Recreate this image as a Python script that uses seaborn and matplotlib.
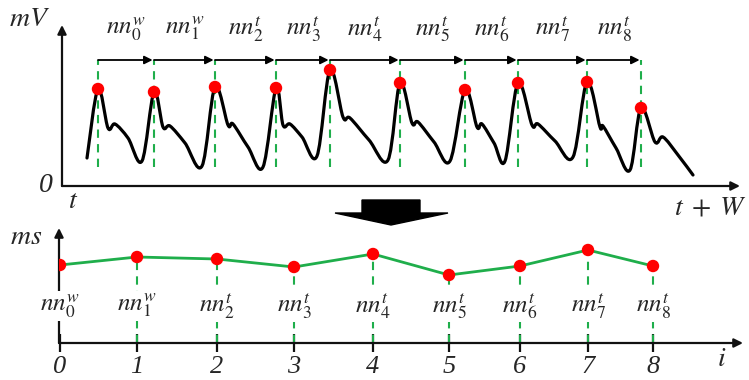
import numpy as np
import matplotlib
matplotlib.use("Agg")
import matplotlib.pyplot as plt
from matplotlib.path import Path
from matplotlib.patches import PathPatch, Polygon
from matplotlib.transforms import Affine2D
import seaborn as sns

# ---------------- data ----------------
# pulse peaks of the signal window (time, amplitude)
peak_t = [0.36, 0.92, 1.53, 2.14, 2.68, 3.38, 4.03, 4.56, 5.25, 5.79]
peak_mv = [0.97, 0.94, 0.99, 0.98, 1.16, 1.03, 0.96, 1.03, 1.04, 0.78]

# waveform shape after every peak: notch, small bump, falling limb, trough
start_pt = (0.25, 0.28)
notch_t = [0.46, 1.01, 1.66, 2.21, 2.81, 3.50, 4.15, 4.70, 5.38, 5.93]
notch_mv = [0.58, 0.59, 0.61, 0.61, 0.69, 0.63, 0.59, 0.61, 0.59, 0.44]
bump_t = [0.53, 1.08, 1.71, 2.28, 2.88, 3.56, 4.20, 4.76, 5.41, 6.01]
bump_mv = [0.62, 0.60, 0.62, 0.62, 0.68, 0.64, 0.62, 0.62, 0.60, 0.49]
fall_t = [0.66, 1.23, 1.86, 2.40, 3.07, 3.72, 4.32, 4.93, 5.54, 6.16]
fall_mv = [0.48, 0.43, 0.39, 0.49, 0.46, 0.44, 0.43, 0.45, 0.38, 0.31]
trough_t = [0.80, 1.40, 2.01, 2.55, 3.26, 3.88, 4.43, 5.11, 5.68, 6.31]
trough_mv = [0.25, 0.20, 0.19, 0.30, 0.26, 0.25, 0.25, 0.29, 0.16, 0.11]

interval_labels = [r"$nn_{0}^{w}$", r"$nn_{1}^{w}$", r"$nn_{2}^{t}$", r"$nn_{3}^{t}$",
                   r"$nn_{4}^{t}$", r"$nn_{5}^{t}$", r"$nn_{6}^{t}$", r"$nn_{7}^{t}$",
                   r"$nn_{8}^{t}$"]

# resulting interval series
sample_idx = ["0", "1", "2", "3", "4", "5", "6", "7", "8"]
sample_x = [0.01, 0.78, 1.58, 2.35, 3.14, 3.90, 4.61, 5.29, 5.94]
nn_vals = [0.78, 0.86, 0.84, 0.76, 0.89, 0.68, 0.77, 0.93, 0.77]

# ---------------- style ----------------
sns.set_theme(style="white")
plt.rcParams["font.family"] = ["Liberation Serif", "DejaVu Serif"]
plt.rcParams["mathtext.fontset"] = "stix"

GREEN = "#1fae4b"
RED = "#ff0000"
W, H = 749, 380

fig = plt.figure(figsize=(W / 100, H / 100), dpi=100)
fig.patch.set_facecolor("white")
pix = Affine2D().scale(1 / W, -1 / H).translate(0, 1) + fig.transFigure


def axis_arrows(ax):
    for s in ax.spines.values():
        s.set_visible(False)
    kw = dict(xycoords="axes fraction", textcoords="axes fraction",
              arrowprops=dict(arrowstyle="-|>", color="#111111", lw=1.6,
                              mutation_scale=13, shrinkA=0, shrinkB=0))
    ax.annotate("", xy=(0, 1), xytext=(0, 0), **kw)
    ax.annotate("", xy=(1, 0), xytext=(0, 0), **kw)


# ---------------- top: signal window ----------------
ax1 = fig.add_axes([62 / W, (H - 186) / H, 678 / W, 161 / H])
ax1.set_xlim(0, 6.78)
ax1.set_ylim(0, 1.61)
ax1.set_xticks([])
ax1.set_yticks([])
ax1.patch.set_alpha(0)
axis_arrows(ax1)

# waveform vertices in time order
pts = [start_pt]
for i in range(len(peak_t)):
    pts += [(peak_t[i], peak_mv[i]), (notch_t[i], notch_mv[i]), (bump_t[i], bump_mv[i]),
            (fall_t[i], fall_mv[i]), (trough_t[i], trough_mv[i])]
pts = np.array(pts)
ext = np.vstack([pts[0], pts, pts[-1]])
verts, codes = [pts[0]], [Path.MOVETO]
for i in range(len(pts) - 1):
    p0, p1, p2, p3 = ext[i], ext[i + 1], ext[i + 2], ext[i + 3]
    verts += [p1 + (p2 - p0) / 6, p2 - (p3 - p1) / 6, p2]
    codes += [Path.CURVE4] * 3
ax1.add_patch(PathPatch(Path(verts, codes), fill=False, lw=2.3, ec="black",
                        capstyle="round", joinstyle="round", zorder=3))

arrow_y = 1.26
ax1.vlines(peak_t, 0.19, arrow_y, colors=GREEN, lw=1.5, linestyles=(0, (4, 3)), zorder=2)
for i in range(len(peak_t) - 1):
    ax1.annotate("", xy=(peak_t[i + 1], arrow_y), xytext=(peak_t[i], arrow_y),
                 arrowprops=dict(arrowstyle="-|>", color="black", lw=1.3,
                                 mutation_scale=12, shrinkA=0, shrinkB=1))
    ax1.text((peak_t[i] + peak_t[i + 1]) / 2, 1.57, interval_labels[i],
             ha="center", va="center", fontsize=18)
sns.scatterplot(x=peak_t, y=peak_mv, color=RED, s=80, edgecolor="none", zorder=5, ax=ax1)

# ---------------- bottom: interval series ----------------
ax2 = fig.add_axes([59 / W, (H - 343) / H, 684 / W, 115 / H])
ax2.set_xlim(0, 6.84)
ax2.set_ylim(0, 1.15)
ax2.patch.set_alpha(0)
axis_arrows(ax2)
ax2.set_yticks([])
ax2.set_xticks(sample_x)
ax2.set_xticklabels(sample_idx, fontsize=19, style="italic")
ax2.tick_params(axis="x", direction="inout", length=13, width=1.6, color="#111111",
                pad=3, bottom=True)

ax2.vlines(sample_x[1:], 0, nn_vals[1:], colors=GREEN, lw=1.5,
           linestyles=(0, (4, 3)), zorder=2)
sns.lineplot(x=sample_x, y=nn_vals, sort=False, color=GREEN, lw=2, zorder=3, ax=ax2)
sns.scatterplot(x=sample_x, y=nn_vals, color=RED, s=80, edgecolor="none", zorder=5, ax=ax2)
for x, lab in zip(sample_x, interval_labels):
    ax2.text(x, 0.37, lab, ha="center", va="center", fontsize=18, zorder=6,
             bbox=dict(boxstyle="square,pad=0.05", fc="white", ec="none"))

# ---------------- axis captions ----------------
fig.text(30, 20, r"$mV$", transform=pix, ha="center", va="center", fontsize=20)
fig.text(46, 185, "0", transform=pix, ha="center", va="center", fontsize=20, style="italic")
fig.text(73, 201, r"$t$", transform=pix, ha="center", va="center", fontsize=20)
fig.text(747, 208, r"$t\;+\;W$", transform=pix, ha="right", va="center", fontsize=20)
fig.text(26, 237, r"$ms$", transform=pix, ha="center", va="center", fontsize=20)
fig.text(722, 360, r"$i$", transform=pix, ha="center", va="center", fontsize=20)

# block arrow between the two panels
fig.patches.append(Polygon([(362, 200), (420, 200), (420, 213), (448, 213), (391, 225),
                            (335, 213), (362, 213)], closed=True, fc="black", ec="black",
                           transform=pix, figure=fig))

fig.savefig("out.png", dpi=100)
